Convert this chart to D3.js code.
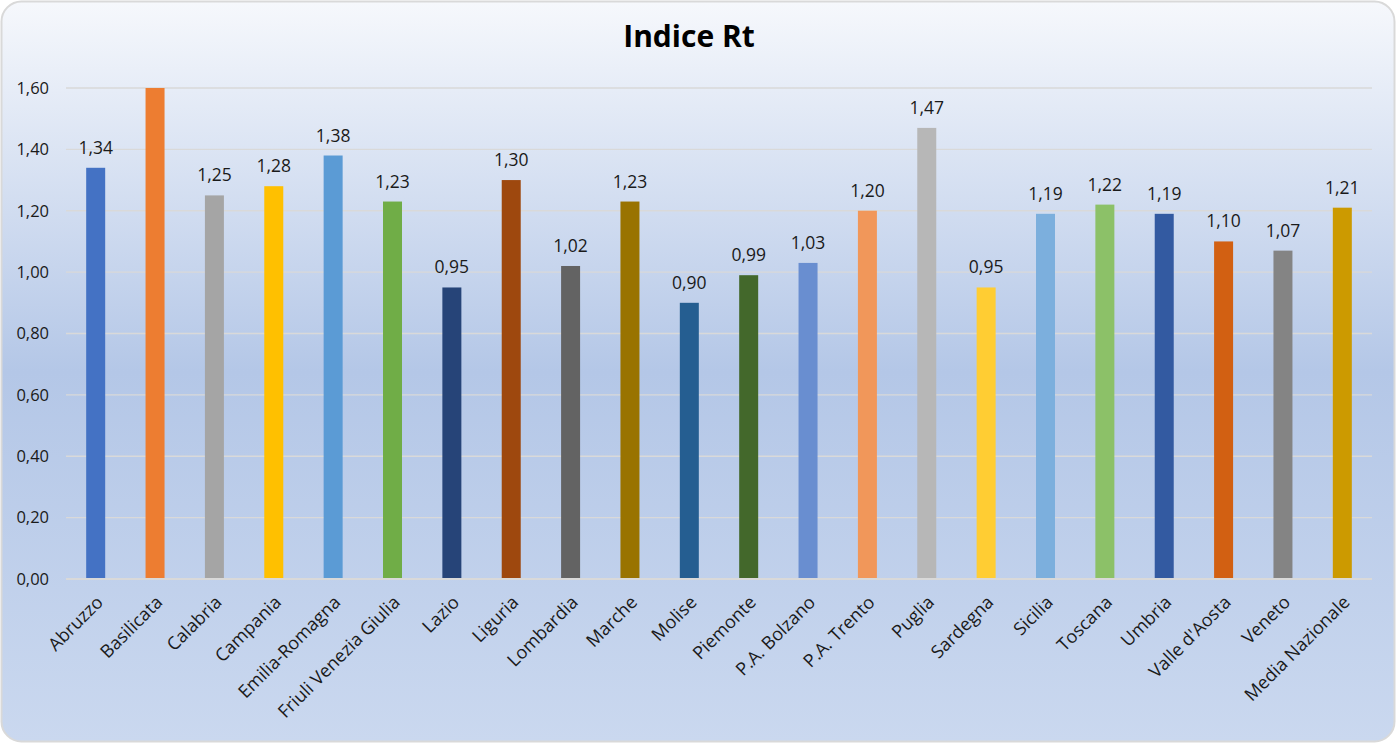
<!DOCTYPE html>
<html>
<head>
<meta charset="utf-8">
<script src="https://cdn.jsdelivr.net/npm/d3@7"></script>
<style>
  body { margin: 0; background: #ffffff; }
  svg { display: block; font-family: "Open Sans", "Noto Sans", sans-serif; }
</style>
</head>
<body>
<div id="chart"></div>
<script>
// regions, in the order of the x axis
var regions = ["Abruzzo", "Basilicata", "Calabria", "Campania", "Emilia-Romagna",
    "Friuli Venezia Giulia", "Lazio", "Liguria", "Lombardia", "Marche", "Molise",
    "Piemonte", "P.A. Bolzano", "P.A. Trento", "Puglia", "Sardegna", "Sicilia",
    "Toscana", "Umbria", "Valle d'Aosta", "Veneto", "Media Nazionale"];

// Rt value for each region
var rtValues = [1.34, 1.60, 1.25, 1.28, 1.38, 1.23, 0.95, 1.30, 1.02, 1.23, 0.90,
    0.99, 1.03, 1.20, 1.47, 0.95, 1.19, 1.22, 1.19, 1.10, 1.07, 1.21];

// one colour per bar
var barColors = ["#4472c4", "#ed7d31", "#a5a5a5", "#ffc000", "#5b9bd5", "#70ad47",
    "#264478", "#9e480e", "#636363", "#997300", "#255e91", "#43682b", "#698ed0",
    "#f1975a", "#b7b7b7", "#ffcd33", "#7cafdd", "#8cc168", "#335aa1", "#d26012",
    "#848484", "#cc9a00"];

var yTicks = [0, 0.2, 0.4, 0.6, 0.8, 1.0, 1.2, 1.4, 1.6];

var W = 1396, H = 743;
var margin = {top: 88, right: 24, bottom: 164, left: 66};

var fmt = function(v) { return d3.format(".2f")(v).replace(".", ","); };

var svg = d3.select("#chart").append("svg")
    .attr("width", W)
    .attr("height", H);

// card background
var grad = svg.append("defs").append("linearGradient")
    .attr("id", "bg").attr("x1", 0).attr("y1", 0).attr("x2", 0).attr("y2", 1);
grad.append("stop").attr("offset", "0%").attr("stop-color", "#f6f8fc");
grad.append("stop").attr("offset", "50%").attr("stop-color", "#b4c7e7");
grad.append("stop").attr("offset", "100%").attr("stop-color", "#cad8ef");

svg.append("rect")
    .attr("x", 1.5).attr("y", 1.5)
    .attr("width", W - 3).attr("height", H - 3)
    .attr("rx", 20).attr("ry", 20)
    .attr("fill", "url(#bg)")
    .attr("stroke", "#d9d9d9")
    .attr("stroke-width", 2);

svg.append("text")
    .attr("x", 689).attr("y", 47)
    .attr("text-anchor", "middle")
    .attr("font-size", 30).attr("font-weight", "bold")
    .attr("fill", "#000")
    .text("Indice Rt");

var x = d3.scaleBand()
    .domain(regions)
    .range([margin.left, W - margin.right])
    .paddingInner(0.68)
    .paddingOuter(0.34);

var y = d3.scaleLinear()
    .domain([0, 1.6])
    .range([H - margin.bottom, margin.top]);

// gridlines
svg.append("g").selectAll("line")
    .data(yTicks.slice(1))
    .join("line")
    .attr("x1", margin.left).attr("x2", W - margin.right)
    .attr("y1", function(d) { return y(d); })
    .attr("y2", function(d) { return y(d); })
    .attr("stroke", "#d9d9d9")
    .attr("stroke-width", 1.3);

// y axis labels
var yAxis = d3.axisLeft(y).tickValues(yTicks).tickFormat(fmt).tickSize(0).tickPadding(17);
var gy = svg.append("g")
    .attr("transform", "translate(" + margin.left + ",0)")
    .call(yAxis);
gy.select(".domain").remove();
gy.selectAll("text").attr("font-size", 16.5).attr("fill", "#1a1a1a")
    .attr("font-family", "Open Sans, sans-serif");

// bars
var data = regions.map(function(r, i) {
    return {region: r, value: rtValues[i], color: barColors[i]};
});

svg.append("g").selectAll("rect")
    .data(data)
    .join("rect")
    .attr("x", function(d) { return x(d.region); })
    .attr("width", x.bandwidth())
    .attr("y", function(d) { return y(d.value); })
    .attr("height", function(d) { return y(0) - y(d.value); })
    .attr("fill", function(d) { return d.color; });

// value labels (the one at the top of the axis is clipped in the original)
svg.append("g").selectAll("text")
    .data(data.filter(function(d) { return d.value < 1.6; }))
    .join("text")
    .attr("x", function(d) { return x(d.region) + x.bandwidth() / 2; })
    .attr("y", function(d) { return y(d.value) - 14; })
    .attr("text-anchor", "middle")
    .attr("font-size", 17.5)
    .attr("fill", "#1a1a1a")
    .text(function(d) { return fmt(d.value); });

// x axis line
svg.append("line")
    .attr("x1", margin.left).attr("x2", W - margin.right)
    .attr("y1", y(0)).attr("y2", y(0))
    .attr("stroke", "#d9d9d9")
    .attr("stroke-width", 2);

// x axis labels
var xAxis = d3.axisBottom(x).tickSize(0).tickPadding(0);
var gx = svg.append("g")
    .attr("transform", "translate(0," + y(0) + ")")
    .call(xAxis);
gx.select(".domain").remove();
gx.selectAll("text")
    .attr("font-size", 18)
    .attr("fill", "#1a1a1a")
    .attr("font-family", "Open Sans, sans-serif")
    .attr("text-anchor", "end")
    .attr("dy", "0.35em")
    .attr("transform", "translate(4,20) rotate(-45)");
</script>
</body>
</html>
